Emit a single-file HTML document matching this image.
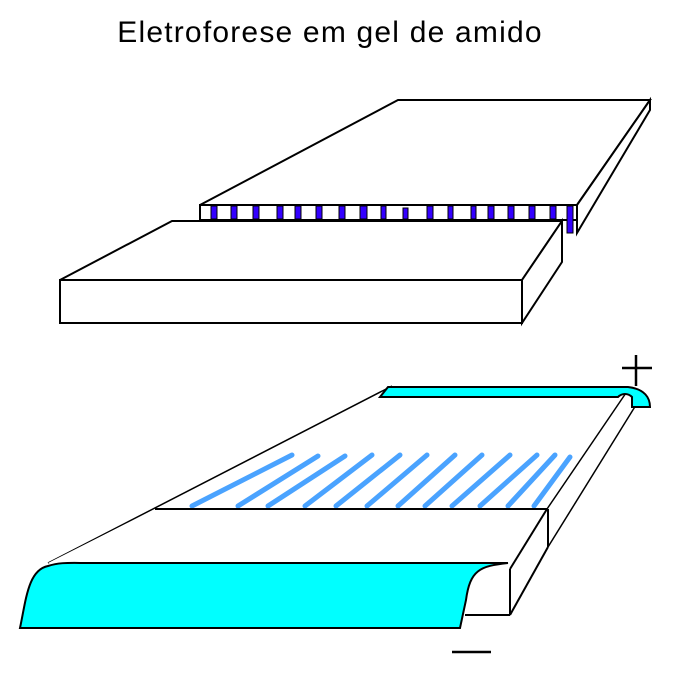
<!DOCTYPE html>
<html><head><meta charset="utf-8"><style>
html,body{margin:0;padding:0;background:#fff;}
svg{display:block;}
</style></head><body>
<svg width="676" height="676" viewBox="0 0 676 676" xmlns="http://www.w3.org/2000/svg">
<text x="330" y="42" text-anchor="middle" font-family="Liberation Sans, sans-serif" font-size="30" letter-spacing="1.2" fill="#000">Eletroforese em gel de amido</text>

<!-- back slab -->
<g stroke="#000" stroke-width="2" fill="#fff" stroke-linejoin="miter">
<polygon points="200,205 398,100 650,100 577,205"/>
<polygon points="650,100 650,110 577,233 577,205"/>
<rect x="200" y="205" width="377" height="15"/>
</g>
<g fill="#3300ff" stroke="#000" stroke-width="1">
<rect x="211" y="206" width="6" height="13"/><rect x="231" y="206" width="6" height="13"/>
<rect x="253" y="206" width="6" height="13"/><rect x="277" y="206" width="6" height="13"/>
<rect x="295" y="206" width="6" height="13"/><rect x="316" y="206" width="6" height="13"/>
<rect x="339" y="206" width="6" height="13"/><rect x="360" y="206" width="7" height="13"/>
<rect x="381" y="206" width="5" height="13"/><rect x="403" y="208" width="5" height="11"/>
<rect x="427" y="206" width="6" height="13"/><rect x="448" y="206" width="5" height="13"/>
<rect x="471" y="206" width="5" height="13"/><rect x="488" y="206" width="6" height="13"/>
<rect x="508" y="206" width="6" height="13"/><rect x="529" y="206" width="6" height="13"/>
<rect x="550" y="206" width="6" height="13"/><rect x="567" y="206" width="6" height="27"/>
</g>
<!-- front slab -->
<g stroke="#000" stroke-width="2" fill="#fff">
<polygon points="60,280 172,221 562,221 522,280"/>
<polygon points="522,280 562,221 562,262 522,323"/>
<rect x="60" y="280" width="462" height="43"/>
</g>

<!-- bottom tray -->
<g stroke="#000" stroke-width="1.5" fill="none">
<polygon points="48,563 392,386 628,388 547,509 155,509" fill="#fff" stroke="none"/>
<line x1="48" y1="563" x2="392" y2="386"/>
<line x1="628" y1="390" x2="547" y2="509"/>
<line x1="636" y1="405" x2="548" y2="547"/>
</g>
<!-- streaks -->
<g stroke="#4aa3ff" stroke-width="5" stroke-linecap="round">
<line x1="192" y1="506" x2="292" y2="455"/>
<line x1="238" y1="506" x2="318" y2="456"/>
<line x1="268" y1="506" x2="345" y2="456"/>
<line x1="305" y1="506" x2="372" y2="455"/>
<line x1="336" y1="506" x2="400" y2="455"/>
<line x1="367" y1="506" x2="427" y2="455"/>
<line x1="398" y1="506" x2="455" y2="455"/>
<line x1="425" y1="506" x2="482" y2="455"/>
<line x1="452" y1="506" x2="510" y2="455"/>
<line x1="480" y1="506" x2="537" y2="455"/>
<line x1="508" y1="506" x2="555" y2="455"/>
<line x1="534" y1="506" x2="570" y2="457"/>
</g>
<!-- gel block -->
<polygon points="48,563 155,509 547,509 548,547 510,615 465,615 465,563" fill="#fff"/>
<g stroke="#000" stroke-width="2" fill="none">
<line x1="155" y1="509" x2="547" y2="509"/>
<line x1="547" y1="509" x2="510" y2="569"/>
<line x1="548" y1="509" x2="548" y2="547"/>
<line x1="548" y1="547" x2="510" y2="615"/>
<line x1="510" y1="569" x2="510" y2="615"/>
<line x1="465" y1="615" x2="510" y2="615"/>
</g>
<!-- front cyan buffer -->
<path d="M20,628 C26,600 28,570 48,566 C60,562 70,563 90,563 L508,563 C480,566 470,570 466,600 L460,628 Z" fill="#00ffff" stroke="#000" stroke-width="2"/>
<!-- top cyan buffer -->
<path d="M380,397 L388,387 L628,387 C645,389 650,398 650,407 L632,407 L632,397 C628,393 622,393 618,397 Z" fill="#00ffff" stroke="#000" stroke-width="2"/>
<!-- plus / minus -->
<g stroke="#000" stroke-width="2.5">
<line x1="622" y1="368" x2="652" y2="368"/>
<line x1="636" y1="355" x2="636" y2="386"/>
<line x1="452" y1="652" x2="491" y2="652"/>
</g>
</svg>
</body></html>
